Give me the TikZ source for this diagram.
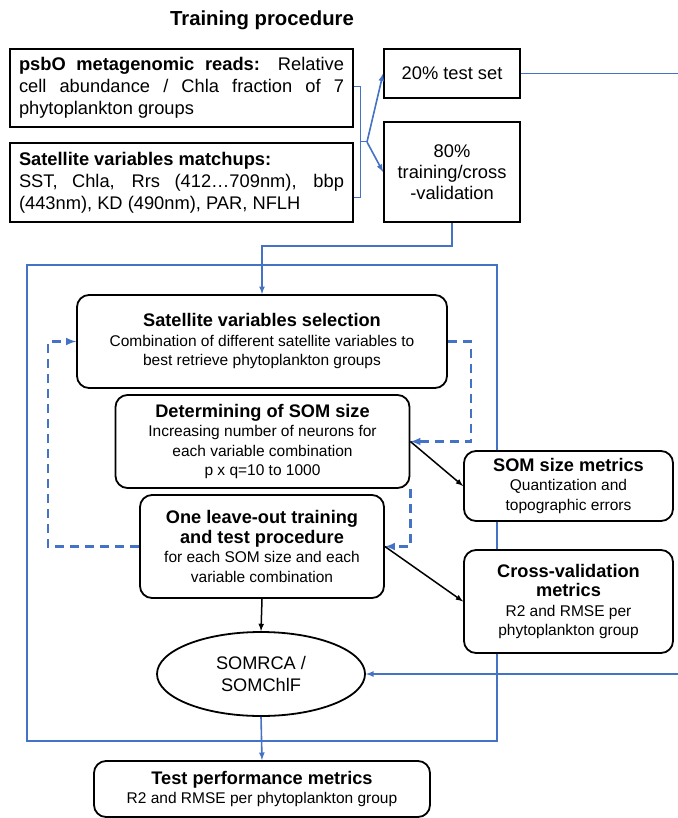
\documentclass[tikz,border=0pt]{standalone}
\usepackage{fontspec}
\setmainfont{Liberation Sans}
\usepackage{xcolor}
\usetikzlibrary{arrows}
\usetikzlibrary{shapes.geometric, math}
\definecolor{linkblue}{HTML}{4472C4}
\newcommand\fsz[2]{\fontsize{#1}{#2}\selectfont}
\newcommand\hd[1]{{\bfseries\fsz{18.2}{21}#1}}

\begin{document}
\begin{tikzpicture}[x=1pt,y=-1pt,
  box/.style={draw,line width=1.8pt,fill=white,inner sep=0pt,align=center,font=\fsz{18.3}{22}},
  rbox/.style={box,rounded corners=12pt,font=\fsz{15.5}{19.5}},
  link/.style={linkblue,line width=1.6pt},
  loop/.style={linkblue,line width=2.4pt,dash pattern=on 9pt off 6pt}]
\tikzmath{
\fl=27; \fr=497; \ft=265; \fb=741;
}
\useasboundingbox (0,0) rectangle (677,818);

\node[font=\bfseries\fsz{20.3}{24}] (title) at (262,20) {Training procedure};

\node[box,minimum width=343,minimum height=78,text width=325,align=justify] (psbo) at (181.5,88)
  {\textbf{psbO metagenomic reads:} Relative\linebreak cell abundance / Chla fraction of 7\linebreak phytoplankton groups};
\node[box,minimum width=343,minimum height=79,text width=325,align=justify] (satmatch) at (181.5,182.5)
  {\textbf{Satellite variables matchups:}\newline SST, Chla, Rrs (412…709nm), bbp\linebreak (443nm), KD (490nm), PAR, NFLH};
\node[box,minimum width=136,minimum height=49] (testset) at (452,73.5) {20\% test set};
\node[box,minimum width=136,minimum height=100,font=\fsz{18.3}{21}] (trainset) at (452,172) {80\%\\training/cross\\-validation};

\draw[link] (\fl,\ft) rectangle (\fr,\fb);

\node[rbox,minimum width=370,minimum height=93] (selection) at (262,341.5)
  {\hd{Satellite variables selection}\\Combination of different satellite variables to\\best retrieve phytoplankton groups};
\node[rbox,minimum width=294,minimum height=93] (somsize) at (262.5,441.5)
  {\hd{Determining of SOM size}\\Increasing number of neurons for\\each variable combination\\p x q=10 to 1000};
\node[rbox,minimum width=209,minimum height=70] (somsizemet) at (568.5,486)
  {\hd{SOM size metrics}\\Quantization and\\topographic errors};
\node[rbox,minimum width=244,minimum height=103] (leaveout) at (262,546.5)
  {\hd{One leave-out training}\\\hd{and test procedure}\\for each SOM size and each\\variable combination};
\node[rbox,minimum width=209,minimum height=103] (cvmet) at (568.5,601.5)
  {\hd{Cross-validation}\\\hd{metrics}\\R2 and RMSE per\\phytoplankton group};
\node[ellipse,draw,line width=1.8pt,fill=white,inner sep=0pt,minimum width=208,minimum height=84,align=center,font=\fsz{18.2}{22}] (somrca) at (261,674)
  {SOMRCA /\\SOMChlF};
\node[rbox,minimum width=336,minimum height=56] (testmet) at (262,789)
  {\hd{Test performance metrics}\\R2 and RMSE per phytoplankton group};

\draw[linkblue,line width=1pt] (psbo.east |- 0,87) -- (360,87) -- (360,198) -- (satmatch.east |- 0,198);
\coordinate (split) at (367,142);
\draw[linkblue,line width=1pt] (360,142) -- (split);
\draw[link,-latex] (split) -- (testset.west);
\draw[link,-latex] (split) -- (trainset.west);

\draw[link,-latex] (testset.east) -- (679,73.5) |- (somrca.east);
\draw[link,-latex] (trainset.south) -- ++(0,23) -| (selection.north);

\draw[loop,-latex] (selection.east) -- ++(23,0) |- (somsize.east);
\draw[loop,-latex] (somsize.south east) |- (leaveout.east);
\draw[loop,-latex] (leaveout.west) -- (48,546.5) |- (selection.west);

\draw[line width=1.5pt,-latex] (somsize.east) -- (somsizemet.west);
\draw[line width=1.5pt,-latex] (leaveout.east) -- (cvmet.west);
\draw[line width=1.5pt,-latex] (leaveout.south) -- (somrca.north);
\draw[link,-latex] (somrca.south) -- (testmet.north);
\end{tikzpicture}
\end{document}
